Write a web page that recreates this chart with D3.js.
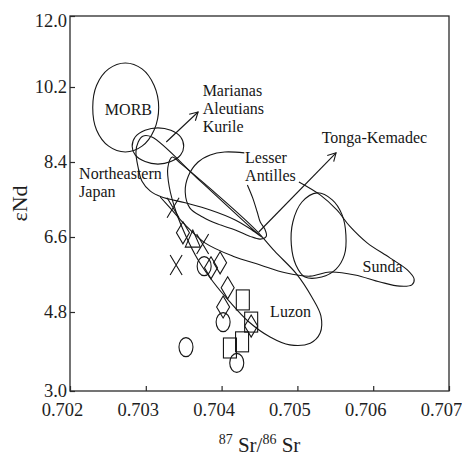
<!DOCTYPE html>
<html>
<head>
<meta charset="utf-8">
<script src="https://cdn.jsdelivr.net/npm/d3@7"></script>
<style>
  html, body { margin: 0; padding: 0; background: #fff; }
  svg { display: block; }
</style>
</head>
<body>
<svg id="chart" width="462" height="456"></svg>
<script>
// Axis ticks
const xTicks = [0.702, 0.703, 0.704, 0.705, 0.706, 0.707];
const yTicks = [3.0, 4.8, 6.6, 8.4, 10.2, 12.0];

// Compositional fields, outlines as [87Sr/86Sr, eNd]
const fieldMORB = [[0.70317, 9.71], [0.70311, 10.24], [0.70295, 10.66], [0.70273, 10.81], [0.70251, 10.66], [0.70235, 10.24],
  [0.70230, 9.71], [0.70235, 9.17], [0.70251, 8.78], [0.70273, 8.64], [0.70295, 8.78], [0.70311, 9.17]];
const fieldMarianas = [[0.70350, 8.78], [0.70346, 9.00], [0.70333, 9.16], [0.70316, 9.22], [0.70299, 9.16], [0.70286, 9.00],
  [0.70282, 8.78], [0.70286, 8.57], [0.70299, 8.41], [0.70316, 8.35], [0.70333, 8.41], [0.70346, 8.57]];
const fieldNEJapan = [[0.70296, 9.02], [0.70290, 8.88], [0.70287, 8.64], [0.70290, 8.26], [0.70295, 7.94], [0.70306, 7.70],
  [0.70321, 7.56], [0.70352, 7.42], [0.70385, 7.25], [0.70418, 7.01], [0.70440, 6.77], [0.70453, 6.60], [0.70445, 6.72],
  [0.70372, 7.94], [0.70308, 9.00]];
const fieldLesserAntilles = [[0.70434, 7.85], [0.70441, 7.54], [0.70447, 7.20], [0.70451, 6.96], [0.70457, 6.79], [0.70459, 6.62],
  [0.70451, 6.55], [0.70437, 6.62], [0.70418, 6.77], [0.70395, 6.91], [0.70375, 7.08], [0.70358, 7.30], [0.70352, 7.68],
  [0.70356, 8.06], [0.70369, 8.40], [0.70385, 8.57], [0.70404, 8.64], [0.70430, 8.62]];
const fieldOval = [[0.70526, 7.66], [0.70546, 7.49], [0.70559, 7.13], [0.70564, 6.65], [0.70562, 6.17], [0.70551, 5.83],
  [0.70532, 5.64], [0.70510, 5.64], [0.70498, 5.93], [0.70492, 6.41], [0.70494, 6.96], [0.70506, 7.44]];
const fieldSunda = [[0.70502, 7.92], [0.70530, 7.61], [0.70552, 7.25], [0.70569, 6.86], [0.70592, 6.46], [0.70622, 6.10],
  [0.70645, 5.81], [0.70654, 5.59], [0.70651, 5.45], [0.70635, 5.42], [0.70609, 5.52], [0.70576, 5.69], [0.70543, 5.76],
  [0.70517, 5.66], [0.70484, 5.74], [0.70451, 5.93], [0.70415, 6.14], [0.70378, 6.46], [0.70352, 6.89], [0.70332, 7.30],
  [0.70319, 7.56]];
const fieldLuzon = [[0.70335, 8.52], [0.70345, 8.38], [0.70389, 7.70], [0.70444, 6.79], [0.70470, 6.26], [0.70499, 5.71],
  [0.70519, 5.16], [0.70531, 4.71], [0.70530, 4.32], [0.70517, 4.09], [0.70490, 4.05], [0.70464, 4.23], [0.70435, 4.59],
  [0.70410, 5.06], [0.70389, 5.52], [0.70369, 6.05], [0.70353, 6.62], [0.70340, 7.20], [0.70331, 7.80], [0.70329, 8.26]];

// Samples by symbol
const samplesCross = [[0.70336, 7.30], [0.70340, 5.93], [0.70375, 6.43]];
const samplesDiamond = [[0.70349, 6.70], [0.70386, 5.86], [0.70398, 5.98], [0.70408, 5.38], [0.70402, 4.92], [0.70439, 4.48]];
const samplesTriangle = [[0.70362, 6.55]];
const samplesCircle = [[0.70377, 5.90], [0.70402, 4.57], [0.70420, 3.64], [0.70353, 4.00]];
const samplesSquare = [[0.70428, 5.09], [0.70439, 4.57], [0.70427, 4.12], [0.70411, 3.98]];

// Field names
const fieldLabels = [
  { lines: ["MORB"], at: [0.70246, 9.53] },
  { lines: ["Marianas", "Aleutians", "Kurile"], at: [0.70375, 9.98] },
  { lines: ["Northeastern", "Japan"], at: [0.70212, 7.99] },
  { lines: ["Lesser", "Antilles"], at: [0.70431, 8.38] },
  { lines: ["Tonga-Kemadec"], at: [0.70532, 8.86] },
  { lines: ["Sunda"], at: [0.70586, 5.76] },
  { lines: ["Luzon"], at: [0.70464, 4.69] }
];

// Pointer arrows from field to name
const arrowLinks = [
  { from: [0.70327, 8.88], to: [0.70369, 9.60] },
  { from: [0.70449, 6.72], to: [0.70551, 8.62] }
];

const svg = d3.select("#chart");
const ink = "#161616";
const serif = '"Liberation Serif"';

const x = d3.scaleLinear().domain([0.702, 0.707]).range([70, 449]);
const y = d3.scaleLinear().domain(yTicks).range([391, 312, 237, 162, 87, 16]);

const closedLine = d3.line().x(d => x(d[0])).y(d => y(d[1])).curve(d3.curveCatmullRomClosed.alpha(0.5));
const openLine = d3.line().x(d => x(d[0])).y(d => y(d[1])).curve(d3.curveCatmullRom.alpha(0.5));

// Field outlines
const gFields = svg.append("g").attr("fill", "none").attr("stroke", ink).attr("stroke-width", 1.1);
[fieldMORB, fieldMarianas, fieldNEJapan, fieldOval, fieldLuzon].forEach(f =>
  gFields.append("path").attr("d", closedLine(f)));
[fieldLesserAntilles, fieldSunda].forEach(f =>
  gFields.append("path").attr("d", openLine(f)));

// Arrows
svg.append("defs").append("marker")
  .attr("id", "head").attr("viewBox", "-10 -6 12 12")
  .attr("refX", 0).attr("refY", 0)
  .attr("markerWidth", 12).attr("markerHeight", 12)
  .attr("markerUnits", "userSpaceOnUse").attr("orient", "auto")
  .append("path").attr("d", "M-8,-4.5L0,0L-8,4.5")
  .attr("fill", "none").attr("stroke", ink).attr("stroke-width", 1.1);

svg.append("g").selectAll("line").data(arrowLinks).join("line")
  .attr("x1", d => x(d.from[0])).attr("y1", d => y(d.from[1]))
  .attr("x2", d => x(d.to[0])).attr("y2", d => y(d.to[1]))
  .attr("stroke", ink).attr("stroke-width", 1.1)
  .attr("marker-end", "url(#head)");

// Sample symbols
const gSym = svg.append("g").attr("fill", "none").attr("stroke", ink).attr("stroke-width", 1.1);
const pos = d => `translate(${x(d[0])},${y(d[1])})`;
gSym.selectAll(".cross").data(samplesCross).join("path").attr("class", "cross")
  .attr("transform", pos).attr("d", "M-6,-10L6,10M-6,10L6,-10");
gSym.selectAll(".diamond").data(samplesDiamond).join("path").attr("class", "diamond")
  .attr("transform", pos).attr("d", "M0,-11L6.5,0L0,11L-6.5,0Z");
gSym.selectAll(".triangle").data(samplesTriangle).join("path").attr("class", "triangle")
  .attr("transform", pos).attr("d", "M0,-9L7.5,8L-7.5,8Z");
gSym.selectAll(".circle").data(samplesCircle).join("ellipse").attr("class", "circle")
  .attr("transform", pos).attr("rx", 7).attr("ry", 9.5);
gSym.selectAll(".square").data(samplesSquare).join("rect").attr("class", "square")
  .attr("transform", pos).attr("x", -6.5).attr("y", -10).attr("width", 13).attr("height", 20);

// Field names
const gLab = svg.append("g").attr("fill", ink);
fieldLabels.forEach(l => {
  const t = gLab.append("text").attr("x", x(l.at[0])).attr("y", y(l.at[1]))
    .style("font-family", serif).style("font-size", "16px");
  l.lines.forEach((s, i) => t.append("tspan").attr("x", x(l.at[0])).attr("dy", i ? 18 : 0).text(s));
});

// Frame
svg.append("rect")
  .attr("x", x(0.702)).attr("y", y(12))
  .attr("width", x(0.707) - x(0.702)).attr("height", y(3) - y(12))
  .attr("fill", "none").attr("stroke", "#2a2a2a").attr("stroke-width", 1.3);

// Axes
const yAxis = d3.axisLeft(y).tickValues(yTicks).tickSize(-5).tickPadding(3).tickFormat(d3.format(".1f"));
const gy = svg.append("g").attr("transform", `translate(${x(0.702)},0)`).call(yAxis);
const xAxis = d3.axisBottom(x).tickValues(xTicks).tickSize(-5).tickPadding(12).tickFormat(d3.format(".3f"));
const gx = svg.append("g").attr("transform", `translate(0,${y(3)})`).call(xAxis);
[gx, gy].forEach(g => {
  g.select(".domain").remove();
  g.selectAll("line").attr("stroke", "#2a2a2a").attr("stroke-width", 1.2);
  g.selectAll("text").attr("fill", "#1e1e1e")
    .style("font-family", serif).style("font-size", "18.5px");
});
gx.selectAll("text").attr("dx", -8);
gy.selectAll(".tick").filter(d => d === 12).select("text").attr("dy", "0.55em");

// Axis titles
const xt = svg.append("text").attr("x", (x(0.702) + x(0.707)) / 2).attr("y", 452)
  .attr("text-anchor", "middle").attr("fill", "#1e1e1e")
  .style("font-family", serif).style("font-size", "21px");
xt.append("tspan").style("font-size", "14px").attr("dy", -8).text("87");
xt.append("tspan").attr("dy", 8).text(" Sr/");
xt.append("tspan").style("font-size", "14px").attr("dy", -8).text("86");
xt.append("tspan").attr("dy", 8).text(" Sr");

svg.append("text").attr("transform", `translate(27,${(y(12) + y(3)) / 2}) rotate(-90)`)
  .attr("text-anchor", "middle").attr("fill", "#1e1e1e")
  .style("font-family", serif).style("font-size", "22px").text("εNd");
</script>
</body>
</html>
